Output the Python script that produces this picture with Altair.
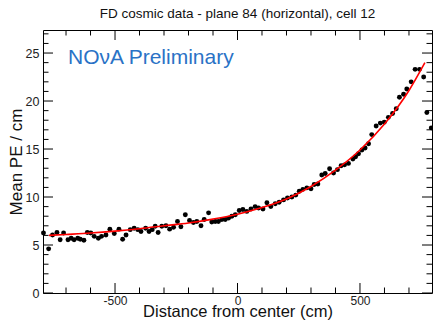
import altair as alt
import pandas as pd

# ---- data ----
point_x = [-792, -771, -755, -737, -724, -710, -692, -679, -667, -652, -642, -627, -613, -599,
           -585, -568, -555, -537, -521, -503, -484, -469, -455, -438, -422, -407, -394, -375,
           -361, -348, -336, -324, -309, -292, -277, -261, -245, -231, -213, -196, -180, -166,
           -149, -136, -118, -105, -91, -78, -64, -50, -37, -23, -9, 7, 22, 38, 55, 72, 86,
           104, 120, 136, 154, 170, 188, 204, 222, 238, 252, 267, 283, 300, 313, 328, 344,
           358, 376, 392, 408, 423, 437, 453, 471, 482, 494, 508, 521, 535, 548, 566, 583,
           599, 616, 633, 648, 661, 678, 691, 709, 725, 743, 760, 773, 791]
point_y = [6.25, 4.6, 6.05, 6.3, 5.55, 6.25, 5.55, 5.7, 5.55, 5.7, 5.6, 5.5, 6.3, 6.25,
           5.9, 5.7, 5.9, 6.05, 6.65, 6.2, 6.65, 5.6, 6.05, 6.6, 6.75, 6.6, 6.4, 6.75,
           6.4, 6.6, 6.95, 6.3, 6.95, 7.0, 6.65, 6.85, 7.45, 6.9, 8.15, 7.55, 7.35, 7.45,
           7.0, 7.65, 8.35, 7.4, 7.45, 7.45, 7.65, 7.65, 7.8, 8.0, 8.15, 8.6, 8.7, 8.5, 8.75, 9.0, 8.85,
           8.75, 9.4, 9.0, 9.3, 9.45, 9.7, 9.9, 10.0, 10.2, 10.6, 10.8, 10.95, 10.85, 11.3, 11.35, 12.3,
           12.45, 12.95, 12.5, 12.85, 13.25, 13.35, 13.5, 13.95, 14.2, 14.5, 14.9, 15.1, 15.55, 16.5, 17.4, 17.7,
           17.8, 18.3, 18.7, 19.2, 20.4, 20.7, 21.25, 22.0, 23.3, 23.3, 22.5, 18.8, 17.2]

fit_x = [-770, -700, -600, -500, -400, -300, -200, -100, 0, 100, 200, 300, 400, 500, 600, 700, 765]
fit_y = [6.0, 6.1, 6.25, 6.45, 6.7, 7.0, 7.3, 7.7, 8.2, 8.9, 9.8, 11.1, 12.8, 14.9, 17.6, 21.1, 24.0]

x_major = [-500, 0, 500]
x_minor = [-700, -600, -400, -300, -200, -100, 100, 200, 300, 400, 600, 700]
y_major = [0, 5, 10, 15, 20, 25]
y_minor = [1, 2, 3, 4, 6, 7, 8, 9, 11, 12, 13, 14, 16, 17, 18, 19, 21, 22, 23, 24, 26, 27]

title_text = "FD cosmic data - plane 84 (horizontal), cell 12"
label_text = "NO\u03bdA Preliminary"
x_title = "Distance from center (cm)"
y_title = "Mean PE / cm"

FONT = "Liberation Sans"
W, H = 389, 263
MAJ, MIN = 10, 5.5

pts = pd.DataFrame({"x": point_x, "y": point_y})
fit = pd.DataFrame({"x": fit_x, "y": fit_y})

xscale = alt.Scale(domain=[-794, 794], nice=False, zero=False)
yscale = alt.Scale(domain=[0, 27.4], nice=False, zero=False)

xaxis = alt.Axis(values=x_major, ticks=False, tickSize=0, domain=False, grid=False,
                 labelFont=FONT, labelFontSize=12, labelColor="#222", labelPadding=2,
                 labelExpr="'' + datum.value",
                 title=x_title, titleFont=FONT, titleFontSize=16.5, titleFontWeight="normal",
                 titleColor="#111", titleY=23.5, titleBaseline="alphabetic")
yaxis = alt.Axis(values=y_major, ticks=False, tickSize=0, domain=False, grid=False,
                 labelFont=FONT, labelFontSize=12.5, labelColor="#222", labelPadding=4,
                 title=y_title, titleFont=FONT, titleFontSize=17, titleFontWeight="normal",
                 titleColor="#111", titleX=-22, titleY=H / 2, titleBaseline="alphabetic")

points = alt.Chart(pts).mark_circle(size=24, color="black", opacity=1).encode(
    x=alt.X("x:Q", scale=xscale, axis=xaxis),
    y=alt.Y("y:Q", scale=yscale, axis=yaxis),
)
curve = alt.Chart(fit).mark_line(color="#ff0000", strokeWidth=1.6, interpolate="monotone").encode(
    x=alt.X("x:Q", scale=xscale, axis=xaxis),
    y=alt.Y("y:Q", scale=yscale, axis=yaxis),
)


def yticks(vals, x0, x1):
    return alt.Chart(pd.DataFrame({"v": vals})).mark_rule(color="black", strokeWidth=1).encode(
        y=alt.Y("v:Q", scale=yscale, axis=yaxis), x=alt.value(x0), x2=alt.value(x1))


def xticks(vals, y0, y1):
    return alt.Chart(pd.DataFrame({"v": vals})).mark_rule(color="black", strokeWidth=1).encode(
        x=alt.X("v:Q", scale=xscale, axis=xaxis), y=alt.value(y0), y2=alt.value(y1))


ticks = [
    yticks(y_major, 0, MAJ), yticks(y_minor, 0, MIN),
    yticks(y_major, W, W - MAJ), yticks(y_minor, W, W - MIN),
    xticks(x_major, H, H - MAJ), xticks(x_minor, H, H - MIN),
    xticks(x_major, 0, MAJ), xticks(x_minor, 0, MIN),
]

nova = alt.Chart(pd.DataFrame({"t": [label_text]})).mark_text(
    font=FONT, fontSize=21, color="#2a72c6", align="left", baseline="alphabetic"
).encode(text="t:N", x=alt.value(25), y=alt.value(34))

chart = alt.layer(points, curve, *ticks, nova).properties(
    width=W, height=H,
    title=alt.TitleParams(text=title_text, font=FONT, fontSize=13.5, fontWeight="normal",
                          color="#111", anchor="middle", frame="group", offset=9),
    autosize=alt.AutoSizeParams(type="none"),
    padding={"left": 43, "top": 30, "right": 1, "bottom": 27},
    background="white",
).configure_view(stroke="black", strokeWidth=1)

chart.save("out.html", embed_options={"renderer": "svg", "actions": False})
